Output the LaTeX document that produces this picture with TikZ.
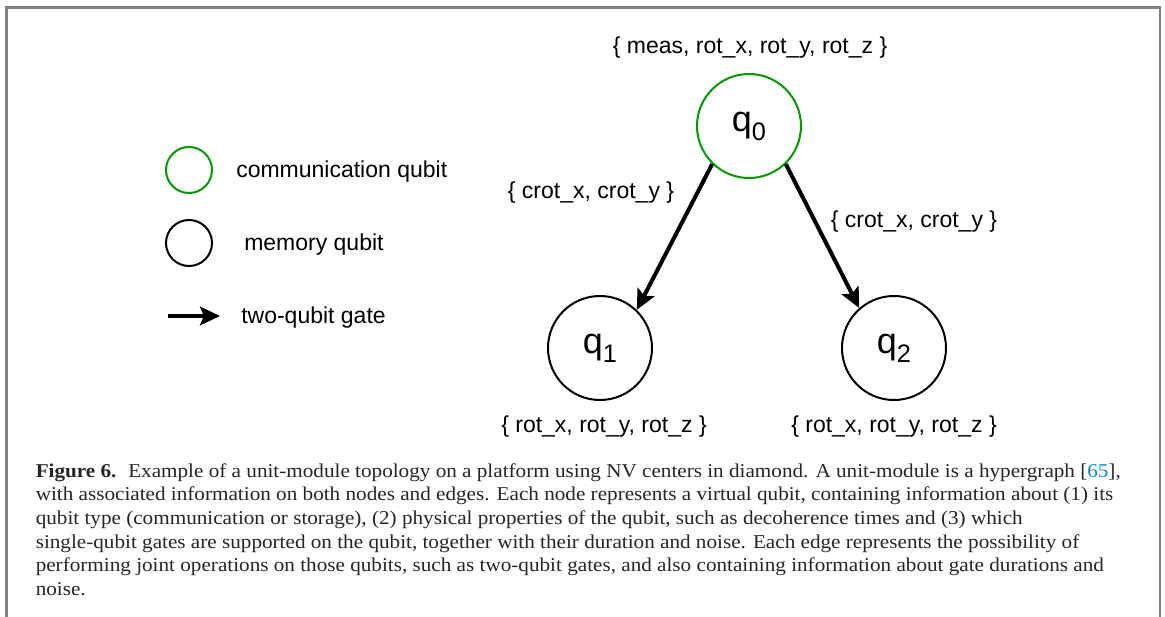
\documentclass[tikz,border=0pt]{standalone}
\usepackage{fontspec}
\setmainfont[FakeStretch=1.08]{Liberation Serif}
\newfontfamily\diagfont{Liberation Sans}
\usetikzlibrary{arrows.meta}
\definecolor{framegray}{RGB}{128,128,128}
\definecolor{commgreen}{RGB}{0,153,0}
\definecolor{refblue}{RGB}{0,140,210}
\tikzset{
  lbl/.style={font=\diagfont\fontsize{17.25}{20}\selectfont, inner sep=0pt, anchor=base},
  lbll/.style={lbl, anchor=base west},
  qubit/.style={circle, draw, line width=1.5pt, minimum size=78pt, inner sep=0pt},
  commq/.style={qubit, draw=commgreen},
  legq/.style={circle, draw, line width=1.5pt, minimum size=34.5pt, inner sep=0pt},
  gate/.style={line width=3pt, -{Stealth[length=15pt, width=14pt, inset=3pt]}},
  captext/.style={font=\fontsize{14.7}{16}\selectfont, inner sep=0pt, anchor=base west, text=black!85},
  qlabel/.style={font=\diagfont\fontsize{27}{30}\selectfont}
}
\newcommand{\qsub}[1]{q\raisebox{-0.25em}{\fontsize{19}{20}\selectfont #1}}
\begin{document}
\begin{tikzpicture}[x=0.75pt, y=-0.75pt]
\useasboundingbox (0,0) rectangle (1165,617);
% frame
\draw[framegray, line width=1.6pt] (6.5,617) -- (6.5,7.5) -- (1160,7.5) -- (1160,617);

% legend
\node[legq, draw=commgreen] (lg) at (189,170) {};
\node[lbll] (lgt) at (236,177.5) {communication qubit};
\node[legq, draw=black] (lm) at (189,243) {};
\node[lbll] (lmt) at (244,250.5) {memory qubit};
\coordinate (la1) at (168,316);
\coordinate (la2) at (220,316);
\draw[gate] (la1) -- (la2);
\node[lbll] (lat) at (241,323.5) {two-qubit gate};

% qubits
\node[commq, qlabel] (q0) at (749,126) {\qsub{0}};
\node[qubit, qlabel] (q1) at (600,348) {\qsub{1}};
\node[qubit, qlabel] (q2) at (894,348) {\qsub{2}};

\node[lbl] (t0) at (750,53.5) {\{ meas, rot\_x, rot\_y, rot\_z \}};
\node[lbl] (t1) at (604,432) {\{ rot\_x, rot\_y, rot\_z \}};
\node[lbl] (t2) at (894,432) {\{ rot\_x, rot\_y, rot\_z \}};

\draw[gate] (q0.226) -- (q1.46);
\draw[gate] (q0.314) -- (q2.131);
\node[lbl] (e1) at (591,198) {\{ crot\_x, crot\_y \}};
\node[lbl] (e2) at (914,227) {\{ crot\_x, crot\_y \}};

% caption
\node[captext] (c1) at (35.5,477) {\textbf{Figure 6.}\hspace{0.6em}Example of a unit-module topology on a platform using NV centers in diamond. A unit-module is a hypergraph [{\color{refblue}65}],};
\node[captext] (c2) at (35.5,500.7) {with associated information on both nodes and edges. Each node represents a virtual qubit, containing information about (1) its};
\node[captext] (c3) at (35.5,524.4) {qubit type (communication or storage), (2) physical properties of the qubit, such as decoherence times and (3) which};
\node[captext] (c4) at (35.5,548.1) {single-qubit gates are supported on the qubit, together with their duration and noise. Each edge represents the possibility of};
\node[captext] (c5) at (35.5,571.8) {performing joint operations on those qubits, such as two-qubit gates, and also containing information about gate durations and};
\node[captext] (c6) at (35.5,595.5) {noise.};
\end{tikzpicture}
\end{document}
